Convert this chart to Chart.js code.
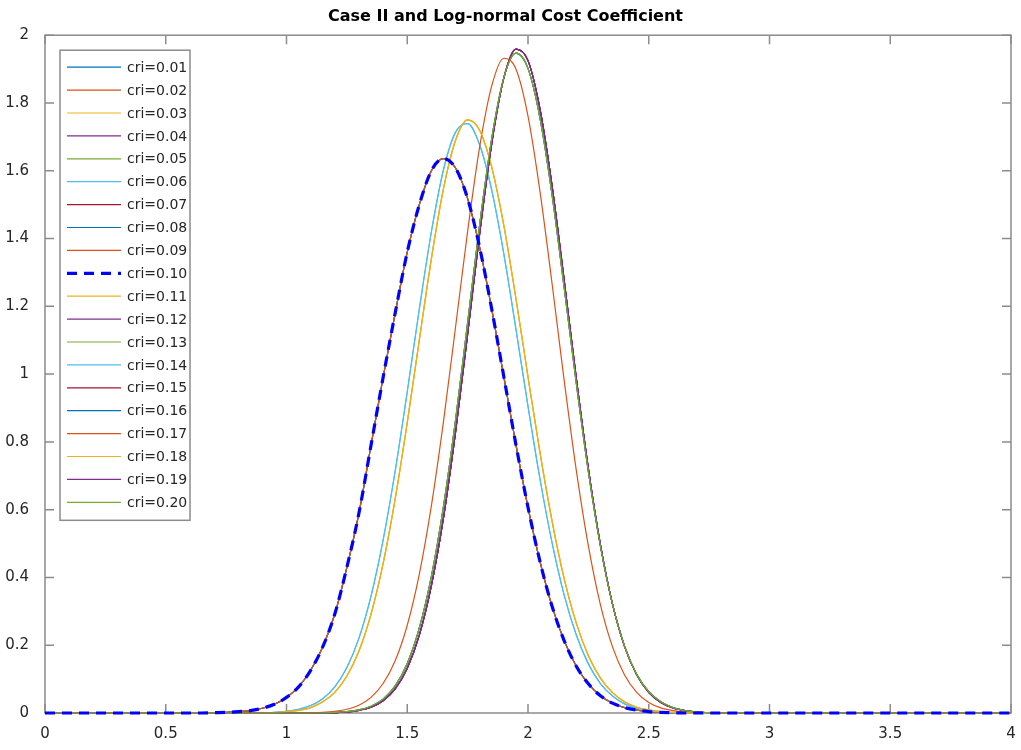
<!DOCTYPE html>
<html>
<head>
<meta charset="utf-8">
<title>Case II and Log-normal Cost Coefficient</title>
<script src="https://cdn.jsdelivr.net/npm/chart.js@4.4.1/dist/chart.umd.min.js"></script>
<style>
  html, body { margin: 0; padding: 0; background: #fff; }
  #wrap { width: 1021px; height: 750px; }
</style>
</head>
<body>
<div id="wrap"><canvas id="pdf" width="1021" height="750"></canvas></div>
<script>
// cost coefficient grid
const xs = [0, 0.5, 0.6, 0.65, 0.7, 0.75, 0.8, 0.85, 0.9, 0.95,
  1.0, 1.05, 1.1, 1.15, 1.2, 1.25, 1.3, 1.35, 1.4, 1.45,
  1.5, 1.55, 1.6, 1.65, 1.7, 1.75, 1.8, 1.85, 1.9, 1.95,
  2.0, 2.05, 2.1, 2.15, 2.2, 2.25, 2.3, 2.35, 2.4, 2.45,
  2.5, 2.55, 2.6, 2.65, 2.7, 2.75, 2.8, 3.0, 3.5, 4.0];

// density curves (one per distinct shape)
const curveA = [0, 0, 0, 0, 0.001, 0.002, 0.004, 0.007, 0.014, 0.026,
  0.046, 0.077, 0.126, 0.195, 0.292, 0.43, 0.59, 0.79, 0.99, 1.18,
  1.36, 1.50, 1.60, 1.636, 1.608, 1.518, 1.373, 1.191, 0.992, 0.792,
  0.607, 0.446, 0.314, 0.213, 0.138, 0.086, 0.051, 0.029, 0.016, 0.0085,
  0.004, 0.002, 0.001, 0, 0, 0, 0, 0, 0, 0];
const curveCyan = [0, 0, 0, 0, 0, 0, 0, 0, 0.001, 0.002,
  0.005, 0.011, 0.022, 0.042, 0.077, 0.134, 0.221, 0.345, 0.510, 0.714,
  0.948, 1.192, 1.420, 1.603, 1.714, 1.739, 1.676, 1.542, 1.354, 1.133,
  0.905, 0.689, 0.501, 0.347, 0.230, 0.145, 0.087, 0.050, 0.027, 0.014,
  0.007, 0.003, 0.001, 0, 0, 0, 0, 0, 0, 0];
const curveYellow = [0, 0, 0, 0, 0, 0, 0, 0, 0, 0.001,
  0.004, 0.008, 0.016, 0.033, 0.061, 0.109, 0.183, 0.292, 0.441, 0.632,
  0.857, 1.101, 1.341, 1.547, 1.690, 1.750, 1.719, 1.610, 1.438, 1.223,
  0.992, 0.767, 0.565, 0.396, 0.265, 0.169, 0.103, 0.060, 0.033, 0.017,
  0.009, 0.004, 0.002, 0.001, 0, 0, 0, 0, 0, 0];
const curveOrange = [0, 0, 0, 0, 0, 0, 0, 0, 0, 0,
  0, 0, 0.001, 0.002, 0.005, 0.011, 0.023, 0.046, 0.087, 0.154,
  0.259, 0.410, 0.612, 0.860, 1.139, 1.421, 1.671, 1.851, 1.932, 1.900,
  1.761, 1.537, 1.265, 0.980, 0.716, 0.493, 0.319, 0.195, 0.112, 0.061,
  0.031, 0.015, 0.007, 0.003, 0.001, 0, 0, 0, 0, 0];
const curvePurple = [0, 0, 0, 0, 0, 0, 0, 0, 0, 0,
  0, 0, 0, 0, 0.001, 0.003, 0.008, 0.017, 0.036, 0.071,
  0.132, 0.230, 0.376, 0.576, 0.829, 1.118, 1.415, 1.681, 1.874, 1.959,
  1.925, 1.781, 1.554, 1.276, 0.988, 0.721, 0.496, 0.321, 0.196, 0.113,
  0.061, 0.031, 0.015, 0.007, 0.003, 0.001, 0, 0, 0, 0];
const curveGreen = [0, 0, 0, 0, 0, 0, 0, 0, 0, 0,
  0, 0, 0, 0, 0.002, 0.004, 0.009, 0.020, 0.041, 0.080,
  0.146, 0.251, 0.403, 0.609, 0.864, 1.151, 1.442, 1.696, 1.875, 1.947,
  1.902, 1.754, 1.527, 1.254, 0.973, 0.712, 0.492, 0.321, 0.197, 0.114,
  0.063, 0.033, 0.016, 0.007, 0.003, 0.001, 0, 0, 0, 0];

const labels = ['cri=0.01', 'cri=0.02', 'cri=0.03', 'cri=0.04', 'cri=0.05',
  'cri=0.06', 'cri=0.07', 'cri=0.08', 'cri=0.09', 'cri=0.10',
  'cri=0.11', 'cri=0.12', 'cri=0.13', 'cri=0.14', 'cri=0.15',
  'cri=0.16', 'cri=0.17', 'cri=0.18', 'cri=0.19', 'cri=0.20'];

const seriesCurves = [curveA, curveA, curveYellow, curvePurple, curveGreen,
  curveCyan, curvePurple, curveA, curveA, curveA,
  curveYellow, curvePurple, curveGreen, curveCyan, curvePurple,
  curveGreen, curveOrange, curveYellow, curvePurple, curveGreen];

// matlab-ish colour order
const blue = '#0072BD', orange = '#D95319', yellow = '#EDB120', purple = '#7E2F8E',
  green = '#77AC30', cyan = '#4DBEEE', darkred = '#A2142F';
const palette = [blue, orange, yellow, purple, green, cyan, darkred, blue, orange, '#0000FF',
  yellow, purple, green, cyan, darkred, blue, orange, yellow, purple, green];

const DASHED = 9;
const axisGray = '#8c8c8c';
const textColor = '#262626';

const datasets = labels.map((label, i) => ({
  label: label,
  data: xs.map((x, k) => ({ x: x, y: seriesCurves[i][k] })),
  borderColor: palette[i],
  borderWidth: i === DASHED ? 3.2 : 1.2,
  borderDash: i === DASHED ? [10, 7] : [],
  pointRadius: 0,
  fill: false,
  cubicInterpolationMode: 'monotone',
  clip: { left: 2, top: 2, right: 2, bottom: 4 },  // let the zero line sit on the axis
  // later series drawn on top, the dashed one above everything
  order: i === DASHED ? 0 : labels.length - i
}));

// box around the plot with inward ticks on all four sides
const axesBox = {
  id: 'axesBox',
  beforeDatasetsDraw(chart) {
    const { ctx, chartArea: a, scales } = chart;
    const tl = 9;
    ctx.save();
    ctx.strokeStyle = axisGray;
    ctx.lineWidth = 1.5;
    ctx.strokeRect(a.left, a.top, a.right - a.left, a.bottom - a.top);
    ctx.beginPath();
    scales.x.ticks.forEach(t => {
      const px = scales.x.getPixelForValue(t.value);
      ctx.moveTo(px, a.bottom); ctx.lineTo(px, a.bottom - tl);
      ctx.moveTo(px, a.top); ctx.lineTo(px, a.top + tl);
    });
    scales.y.ticks.forEach(t => {
      const py = scales.y.getPixelForValue(t.value);
      ctx.moveTo(a.left, py); ctx.lineTo(a.left + tl, py);
      ctx.moveTo(a.right, py); ctx.lineTo(a.right - tl, py);
    });
    ctx.stroke();
    ctx.restore();
  }
};

// legend box in the upper left corner of the plot
const boxLegend = {
  id: 'boxLegend',
  afterDraw(chart) {
    const { ctx, chartArea: a } = chart;
    const sets = chart.data.datasets;
    const left = a.left + 15, top = a.top + 15;
    const w = 130, rowH = 22.9;
    const h = 17 + rowH * (sets.length - 1) + 18;
    ctx.save();
    ctx.fillStyle = '#fff';
    ctx.fillRect(left, top, w, h);
    ctx.strokeStyle = axisGray;
    ctx.lineWidth = 1.5;
    ctx.strokeRect(left, top, w, h);
    ctx.font = '14px "DejaVu Sans"';
    ctx.textBaseline = 'middle';
    sets.forEach((ds, i) => {
      const y = top + 17 + i * rowH;
      ctx.beginPath();
      ctx.strokeStyle = ds.borderColor;
      ctx.lineWidth = ds.borderWidth;
      ctx.setLineDash(ds.borderDash);
      ctx.moveTo(left + 7, y);
      ctx.lineTo(left + 61, y);
      ctx.stroke();
      ctx.setLineDash([]);
      ctx.fillStyle = textColor;
      ctx.fillText(ds.label, left + 67, y + 1);
    });
    ctx.restore();
  }
};

const tickFont = { family: 'DejaVu Sans', size: 15 };
const plainNumber = v => String(Number(v.toFixed(1)));

new Chart(document.getElementById('pdf'), {
  type: 'line',
  data: { datasets: datasets },
  options: {
    responsive: false,
    animation: false,
    layout: { padding: { left: 0, right: 10, top: 0, bottom: 0 } },
    plugins: {
      legend: { display: false },
      tooltip: { enabled: false },
      title: {
        display: true,
        text: 'Case II and Log-normal Cost Coefficient',
        color: '#000',
        font: { family: 'DejaVu Sans', size: 16, weight: 'bold' },
        padding: { top: 7, bottom: 9 }
      }
    },
    scales: {
      x: {
        type: 'linear',
        min: 0,
        max: 4,
        ticks: { stepSize: 0.5, padding: 4, color: textColor, font: tickFont, maxRotation: 0, callback: plainNumber },
        grid: { display: false },
        border: { display: false },
        afterFit(s) { s.height = 37; s.paddingLeft = 0; s.paddingRight = 0; }
      },
      y: {
        type: 'linear',
        min: 0,
        max: 2,
        ticks: { stepSize: 0.2, padding: 8, color: textColor, font: tickFont, callback: plainNumber },
        grid: { display: false },
        border: { display: false },
        afterFit(s) { s.width = 45; s.paddingTop = 0; s.paddingBottom = 0; }
      }
    }
  },
  plugins: [axesBox, boxLegend]
});
</script>
</body>
</html>
